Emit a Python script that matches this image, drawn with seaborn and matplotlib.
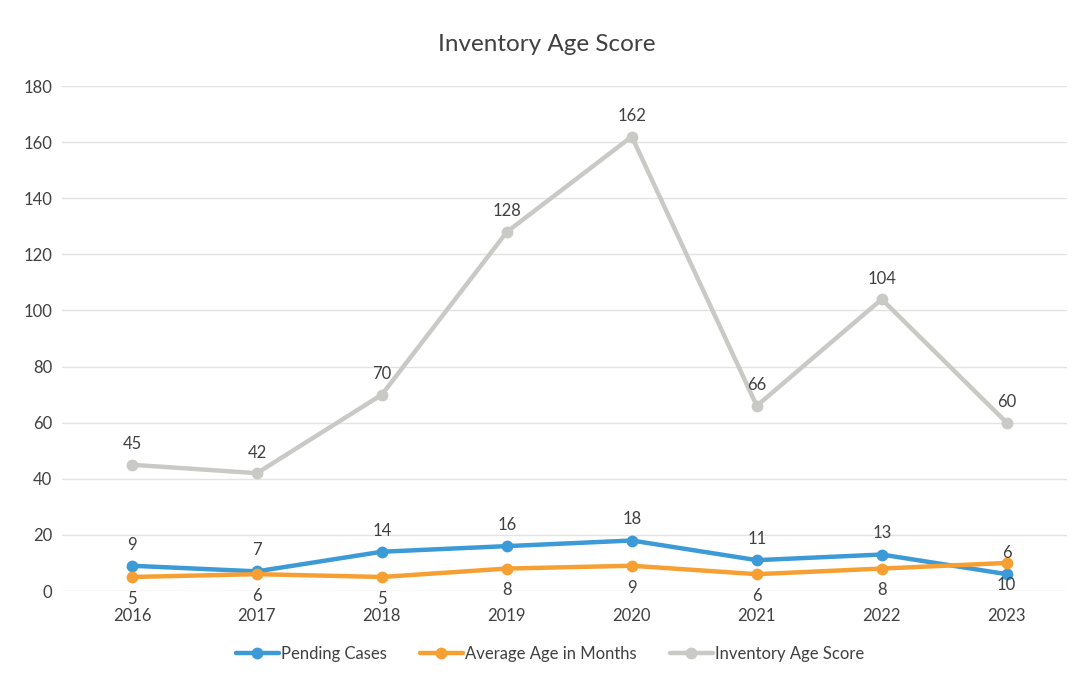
import matplotlib
matplotlib.use("Agg")
import matplotlib.pyplot as plt
import seaborn as sns
import pandas as pd

years = ["2016", "2017", "2018", "2019", "2020", "2021", "2022", "2023"]
pending_cases = [9, 7, 14, 16, 18, 11, 13, 6]
average_age = [5, 6, 5, 8, 9, 6, 8, 10]
inventory_score = [45, 42, 70, 128, 162, 66, 104, 60]
series_names = ["Pending Cases", "Average Age in Months", "Inventory Age Score"]
colors = ["#3C9AD6", "#F6A034", "#C9C9C6"]
y_ticks = [0, 20, 40, 60, 80, 100, 120, 140, 160, 180]

sns.set_theme(style="white")
plt.rcParams['font.family'] = ['Lato', 'DejaVu Sans']
text_color = "#404040"

rows = []
for name, vals in zip(series_names, [pending_cases, average_age, inventory_score]):
    for i, (yr, v) in enumerate(zip(years, vals)):
        rows.append({"x": i, "year": yr, "value": v, "series": name})
df = pd.DataFrame(rows)

fig = plt.figure(figsize=(10.78, 6.79), dpi=100)
ax = fig.add_axes([0.0575, 0.1296, 0.932, 0.7437])

sns.lineplot(data=df, x="x", y="value", hue="series", hue_order=series_names,
             palette=colors, marker="o", markersize=8.5, markeredgewidth=0,
             linewidth=3.2, ax=ax, legend=True, zorder=3)

# Data labels
offsets = {"Pending Cases": 9.5, "Average Age in Months": -10, "Inventory Age Score": 9}
for name, vals in zip(series_names, [pending_cases, average_age, inventory_score]):
    for i, v in enumerate(vals):
        off = offsets[name]
        va = "bottom" if off > 0 else "top"
        ax.annotate(str(v), (i, v), xytext=(0, off), textcoords="offset points",
                    ha="center", va=va, fontsize=12, color=text_color)

ax.set_xlim(-0.56, 7.48)
ax.set_ylim(0, 180)
ax.set_yticks(y_ticks)
ax.set_xticks(range(len(years)))
ax.set_xticklabels(years)
ax.tick_params(axis="both", length=0, labelsize=12, labelcolor=text_color)
ax.tick_params(axis="x", pad=12)
ax.tick_params(axis="y", pad=7)
ax.grid(axis="y", color="#E3E3E3", linewidth=1)
ax.grid(axis="x", visible=False)
for s in ax.spines.values():
    s.set_visible(False)
ax.set_xlabel("")
ax.set_ylabel("")

fig.text(0.507, 0.935, "Inventory Age Score", ha="center", va="center",
         fontsize=17.5, color=text_color)

handles, labels = ax.get_legend_handles_labels()
ax.get_legend().remove()
fig.legend(handles, labels, loc="center", bbox_to_anchor=(0.51, 0.037),
           ncol=3, frameon=False, fontsize=12, handlelength=2.6,
           handletextpad=0.1, columnspacing=2.0, labelcolor=text_color)

fig.savefig("out.png", dpi=100, facecolor="white")
